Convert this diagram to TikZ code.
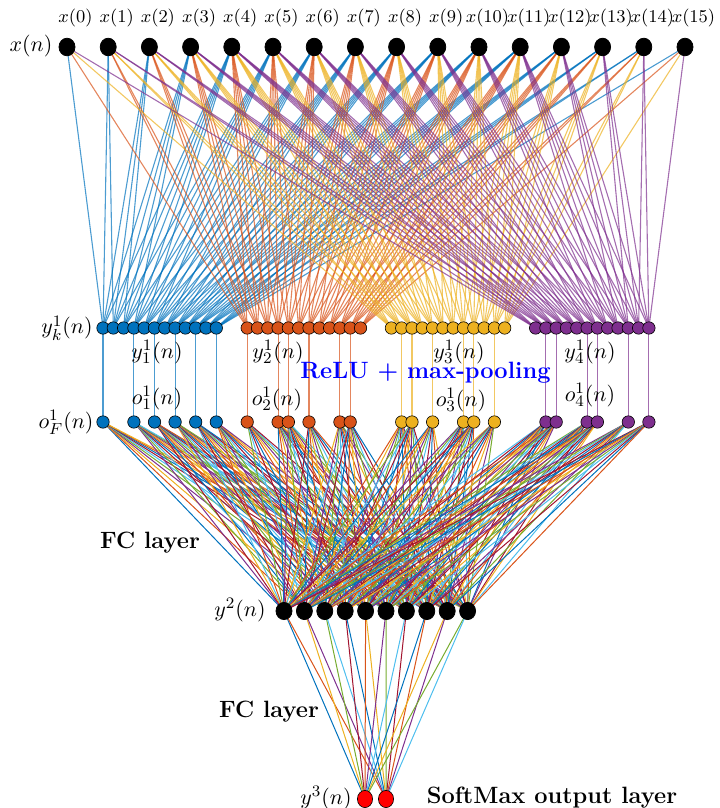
\documentclass[tikz,border=0pt]{standalone}
\usetikzlibrary{shapes.geometric}
\pgfdeclarelayer{background}
\pgfsetlayers{background,main}
% line colour order
\definecolor{mc0}{rgb}{0,0.447,0.741}
\definecolor{mc1}{rgb}{0.850,0.325,0.098}
\definecolor{mc2}{rgb}{0.929,0.694,0.125}
\definecolor{mc3}{rgb}{0.494,0.184,0.556}
\definecolor{mc4}{rgb}{0.466,0.674,0.188}
\definecolor{mc5}{rgb}{0.301,0.745,0.933}
\definecolor{mc6}{rgb}{0.635,0.078,0.184}
\begin{document}
\begin{tikzpicture}[x=0.5pt,y=-0.5pt,
  inpt/.style={ellipse,draw=black,fill=black,minimum width=8pt,minimum height=8.8pt,inner sep=0pt},
  convnode/.style={circle,draw=black,line width=0.3pt,minimum size=6.2pt,inner sep=0pt},
  hid/.style={ellipse,draw=black,fill=black,minimum width=8pt,minimum height=8.6pt,inner sep=0pt},
  outn/.style={ellipse,draw=black,line width=0.3pt,fill=red,minimum width=7.6pt,minimum height=8.6pt,inner sep=0pt},
  conn/.style={line width=0.5pt},
  kern/.style={line width=0.55pt,opacity=0.7},
  lab/.style={font=\fontsize{11.3}{13}\selectfont,inner sep=0pt},
  xlab/.style={font=\fontsize{8.7}{10}\selectfont,inner sep=0pt},
  bold/.style={font=\fontsize{11.8}{14}\selectfont\bfseries,inner sep=0pt}]
\useasboundingbox (0,0) rectangle (719,808);

% input samples
\foreach \i in {0,...,15}{
  \node[inpt] (x\i) at ({67+41.2*\i},47) {};
  \node[xlab] (xl\i) at ({75.5+41.2*\i},18) {$x(\i)$};
}

% convolution outputs, four filters of twelve outputs each
\foreach \f in {0,...,3}{
  \foreach \k in {0,...,11}{
    \node[convnode,fill=mc\f] (y\f-\k) at ({103+10.3*(14*\f+\k)},328) {};
  }
}

% kernel connections (kernel length 5)
\begin{pgfonlayer}{background}
\foreach \f in {0,...,3}{
  \foreach \k in {0,...,11}{
    \foreach \j in {0,...,4}{
      \pgfmathtruncatemacro{\src}{\k+\j}
      \draw[kern,draw=mc\f] (x\src.center) -- (y\f-\k.center);
    }
  }
}
\end{pgfonlayer}

% max-pooled outputs
\foreach \f/\sel in {0/{0,3,5,7,9,11},1/{0,3,4,6,9,10},2/{1,2,4,7,8,10},3/{1,2,5,6,9,11}}{
  \foreach \k [count=\m from 0] in \sel{
    \node[convnode,fill=mc\f] (o\f-\m) at ({103+10.3*(14*\f+\k)},422) {};
    \begin{pgfonlayer}{background}
      \draw[kern,draw=mc\f] (y\f-\k.center) -- (o\f-\m.center);
    \end{pgfonlayer}
  }
}

% hidden fully connected layer
\foreach \j in {0,...,9}{
  \node[hid] (h\j) at ({284+20.4*\j},611) {};
}
% softmax outputs
\node[outn] (out0) at (365,799) {};
\node[outn] (out1) at (386,799) {};

\begin{pgfonlayer}{background}
\foreach \f in {0,...,3}{
  \foreach \m in {0,...,5}{
    \foreach \j in {0,...,9}{
      \pgfmathtruncatemacro{\ci}{mod((6*\f+\m)*10+\j,7)}
      \draw[conn,draw=mc\ci] (o\f-\m.center) -- (h\j.center);
    }
  }
}
\foreach \j in {0,...,9}{
  \foreach \k in {0,1}{
    \pgfmathtruncatemacro{\ci}{mod(2*\j+\k,7)}
    \draw[conn,draw=mc\ci] (h\j.center) -- (out\k.center);
  }
}
\end{pgfonlayer}

% labels
\node[lab] (lx) at (31,46) {$x(n)$};
\node[lab] (lyk) at (67,328) {$y^1_k(n)$};
\node[lab] (lof) at (66,422) {$o^1_F(n)$};
\node[lab] (ly1) at (157,352) {$y^1_1(n)$};
\node[lab] (ly2) at (278,352) {$y^1_2(n)$};
\node[lab] (ly3) at (459,352) {$y^1_3(n)$};
\node[lab] (ly4) at (590,352) {$y^1_4(n)$};
\node[lab] (lo1) at (157,398) {$o^1_1(n)$};
\node[lab] (lo2) at (277,399) {$o^1_2(n)$};
\node[lab] (lo3) at (461,400) {$o^1_3(n)$};
\node[lab] (lo4) at (590,395) {$o^1_4(n)$};
\node[bold,text=blue] (lrelu) at (425.5,373) {ReLU + max-pooling};
\node[bold] (lfc1) at (150,543) {FC layer};
\node[lab] (lh) at (240,610) {$y^2(n)$};
\node[bold] (lfc2) at (269,712) {FC layer};
\node[lab] (lout) at (326,798) {$y^3(n)$};
\node[bold] (lsm) at (552,798) {SoftMax output layer};
\end{tikzpicture}
\end{document}
